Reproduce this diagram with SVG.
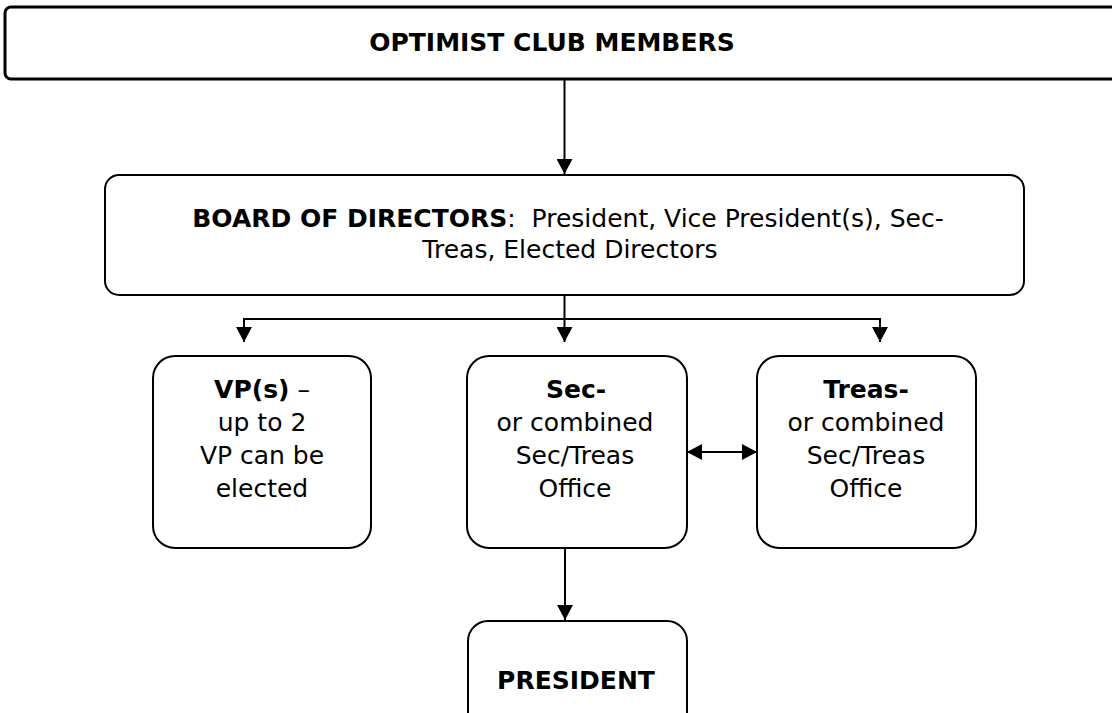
<svg xmlns="http://www.w3.org/2000/svg" width="1112" height="713" viewBox="0 0 1112 713">
<style>
.box{fill:#fff;stroke:#000;stroke-width:2}
.top{fill:#fff;stroke:#000;stroke-width:3}
.t{font-family:"DejaVu Sans","Liberation Sans",sans-serif;font-size:25px;fill:#000;text-anchor:middle}
.b{font-weight:bold}
.c{fill:none;stroke:#000;stroke-width:2}
</style>
<defs>
<marker id="ah" markerUnits="userSpaceOnUse" markerWidth="16" markerHeight="16" refX="15" refY="8" orient="auto-start-reverse" viewBox="0 0 16 16">
<path d="M0,0 L15,8 L0,16 z" fill="#000"/>
</marker>
</defs>
<g id="connectors">
<line class="c" x1="564.5" y1="79" x2="564.5" y2="174" marker-end="url(#ah)"/>
<line class="c" x1="564.5" y1="295" x2="564.5" y2="319"/>
<line class="c" x1="244" y1="319" x2="880" y2="319"/>
<line class="c" x1="244" y1="318" x2="244" y2="342" marker-end="url(#ah)"/>
<line class="c" x1="564.5" y1="318" x2="564.5" y2="342" marker-end="url(#ah)"/>
<line class="c" x1="880" y1="318" x2="880" y2="342" marker-end="url(#ah)"/>
<line class="c" x1="687" y1="452" x2="757" y2="452" marker-start="url(#ah)" marker-end="url(#ah)"/>
<line class="c" x1="565" y1="548" x2="565" y2="620" marker-end="url(#ah)"/>
</g>
<g id="members">
<rect class="top" x="5" y="7" width="1130" height="72" rx="6"/>
<text class="t b" x="552" y="51">OPTIMIST CLUB MEMBERS</text>
</g>
<g id="board">
<rect class="box" x="105" y="175" width="919" height="120" rx="14"/>
<text class="t" x="568" y="227" xml:space="preserve"><tspan class="b">BOARD OF DIRECTORS</tspan>:  President, Vice President(s), Sec-</text>
<text class="t" x="570" y="258">Treas, Elected Directors</text>
</g>
<g id="vp">
<rect class="box" x="153" y="356" width="218" height="192" rx="22"/>
<text class="t" x="262" y="398"><tspan class="b">VP(s)</tspan> –</text>
<text class="t" x="262" y="431">up to 2</text>
<text class="t" x="262" y="464">VP can be</text>
<text class="t" x="262" y="497">elected</text>
</g>
<g id="sec">
<rect class="box" x="467" y="356" width="220" height="192" rx="22"/>
<text class="t b" x="576" y="398">Sec-</text>
<text class="t" x="575" y="431">or combined</text>
<text class="t" x="575" y="464">Sec/Treas</text>
<text class="t" x="575" y="497">Office</text>
</g>
<g id="treas">
<rect class="box" x="757" y="356" width="219" height="192" rx="22"/>
<text class="t b" x="866" y="398">Treas-</text>
<text class="t" x="866" y="431">or combined</text>
<text class="t" x="866" y="464">Sec/Treas</text>
<text class="t" x="866" y="497">Office</text>
</g>
<g id="president">
<rect class="box" x="468" y="621" width="219" height="130" rx="20"/>
<text class="t b" x="576" y="689">PRESIDENT</text>
</g>
</svg>
